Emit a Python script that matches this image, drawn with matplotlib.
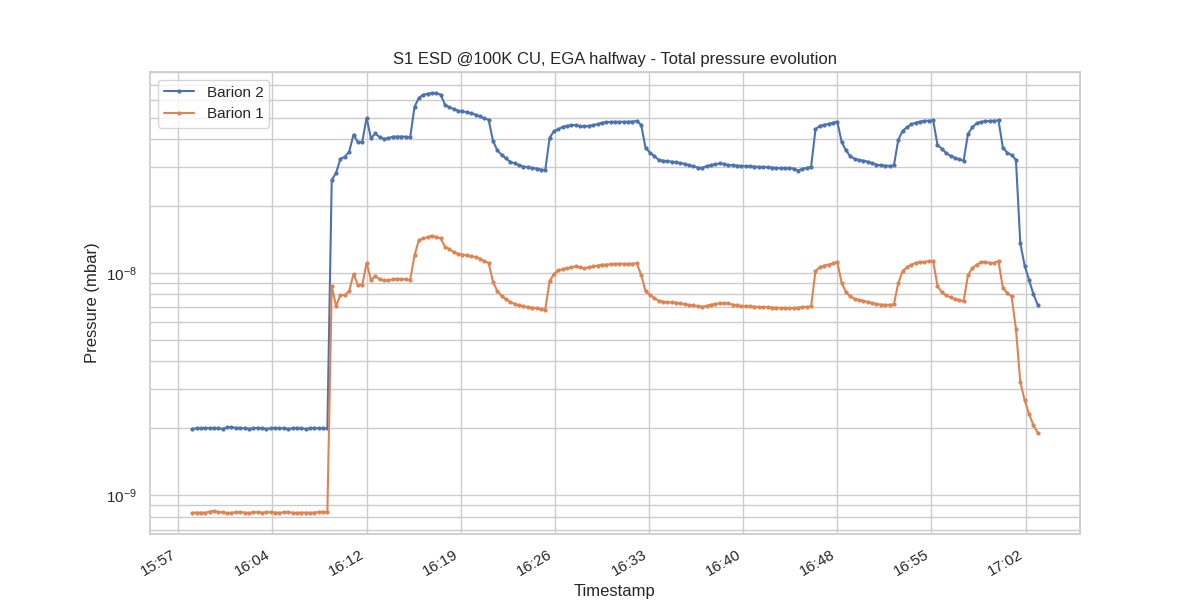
import numpy as np
import pandas as pd
import matplotlib
matplotlib.use("Agg")
import matplotlib.pyplot as plt
import matplotlib.dates as mdates
import matplotlib.ticker as mticker
import seaborn as sns

# readings every 20 s, pressure in units of 1e-9 mbar
start = "2023-01-01 15:58:40"
step = "20s"

barion2_flat = [1.99, 2.00, 2.00, 2.01, 2.00, 2.01, 2.00, 1.99,
                2.02, 2.02, 2.01, 2.01, 2.00, 1.99, 2.00, 2.01,
                2.00, 1.99, 2.00, 2.01, 2.00, 2.00, 1.99, 2.00,
                2.01, 2.00, 1.99, 2.00, 2.01, 2.00, 2.00, 2.00]
barion2_run = [26.2, 28.2, 32.6, 33.3, 35.1, 41.9, 38.7, 38.9, 49.9, 40.4,
               42.4, 40.8, 40.1, 40.4, 41.0, 41.1, 41.1, 41.0, 40.7, 55.9,
               61.4, 63.4, 64.0, 64.5, 64.3, 63.4, 57.1, 55.6, 54.6, 53.7,
               53.4, 52.8, 52.3, 51.5, 50.6, 49.6, 48.9, 39.3, 35.6, 34.0,
               32.8, 31.6, 31.1, 30.5, 30.1, 29.9, 29.7, 29.5, 29.2, 29.0,
               40.6, 43.4, 44.3, 45.5, 45.9, 46.2, 46.3, 45.8, 45.6, 45.9,
               46.3, 46.7, 47.4, 47.7, 47.8, 47.9, 47.8, 47.9, 47.9, 48.0,
               48.2, 46.4, 36.6, 34.8, 33.6, 32.3, 32.0, 31.8, 31.7, 31.5,
               31.2, 31.0, 30.5, 30.2, 29.8, 29.7, 30.2, 30.6, 30.8, 31.1,
               31.0, 30.6, 30.5, 30.4, 30.3, 30.2, 30.2, 30.1, 30.0, 30.0,
               29.9, 29.8, 29.7, 29.6, 29.6, 29.6, 29.5, 28.9, 29.4, 29.7,
               30.0, 44.3, 45.9, 46.4, 46.9, 47.4, 48.0, 38.9, 35.6, 33.5,
               32.6, 32.2, 32.0, 31.7, 31.2, 30.7, 30.5, 30.4, 30.3, 30.5,
               39.7, 43.6, 45.2, 46.7, 47.4, 48.0, 48.3, 48.4, 48.6, 37.7,
               36.2, 34.6, 33.6, 33.0, 32.4, 32.0, 42.3, 45.2, 47.2, 47.8,
               48.2, 48.3, 48.4, 48.6, 36.6, 34.8, 33.9, 32.3, 13.6, 10.8,
               9.30, 8.04, 7.18]

barion1_flat = [0.835, 0.835, 0.836, 0.834, 0.845, 0.850, 0.840, 0.838,
                0.832, 0.835, 0.838, 0.840, 0.836, 0.833, 0.837, 0.840,
                0.835, 0.838, 0.842, 0.836, 0.834, 0.838, 0.840, 0.835,
                0.833, 0.836, 0.835, 0.834, 0.836, 0.840, 0.843, 0.838]
barion1_run = [8.70, 7.10, 7.96, 7.96, 8.29, 9.90, 8.83, 8.83, 11.1, 9.30,
               9.69, 9.35, 9.25, 9.25, 9.37, 9.40, 9.40, 9.35, 9.30, 12.0,
               14.1, 14.3, 14.5, 14.7, 14.5, 14.3, 13.1, 12.8, 12.4, 12.2,
               12.1, 12.0, 11.9, 11.8, 11.6, 11.3, 11.1, 9.11, 8.29, 7.88,
               7.60, 7.40, 7.25, 7.14, 7.07, 7.01, 6.98, 6.94, 6.87, 6.84,
               9.20, 9.90, 10.26, 10.4, 10.5, 10.6, 10.7, 10.6, 10.5, 10.6,
               10.7, 10.8, 10.9, 10.9, 10.95, 11.0, 11.0, 11.0, 11.0, 11.0,
               11.05, 9.80, 8.29, 7.96, 7.71, 7.50, 7.44, 7.38, 7.37, 7.36,
               7.29, 7.23, 7.18, 7.14, 7.10, 7.05, 7.10, 7.20, 7.25, 7.29,
               7.30, 7.29, 7.21, 7.14, 7.10, 7.08, 7.07, 7.05, 7.03, 7.02,
               7.01, 6.99, 6.98, 6.96, 6.95, 6.94, 6.94, 6.98, 7.03, 7.03,
               7.07, 10.2, 10.6, 10.8, 10.9, 11.05, 11.2, 9.02, 8.21, 7.84,
               7.64, 7.57, 7.49, 7.41, 7.34, 7.25, 7.21, 7.18, 7.19, 7.23,
               9.00, 10.2, 10.6, 10.9, 11.1, 11.2, 11.2, 11.3, 11.3, 8.74,
               8.17, 7.92, 7.77, 7.64, 7.56, 7.46, 9.79, 10.5, 10.9, 11.2,
               11.2, 11.1, 11.1, 11.3, 8.56, 8.13, 7.84, 5.60, 3.23, 2.68,
               2.32, 2.07, 1.91]

barion2 = np.array(barion2_flat + barion2_run) * 1e-9
barion1 = np.array(barion1_flat + barion1_run) * 1e-9
t = pd.date_range(start, periods=len(barion2), freq=step)

sns.set_theme(style="whitegrid")
plt.rcParams["font.family"] = ["Liberation Sans", "DejaVu Sans"]

fig, ax = plt.subplots(figsize=(12, 6), dpi=100)
ax.plot(t, barion2, marker=".", markersize=4, label="Barion 2")
ax.plot(t, barion1, marker=".", markersize=4, label="Barion 1")
ax.set_yscale("log")
ax.grid(True, which="both", axis="y")
ax.grid(True, which="major", axis="x")

ax.xaxis.set_major_locator(mticker.MultipleLocator(0.005))
ax.xaxis.set_major_formatter(mdates.DateFormatter("%H:%M"))
plt.setp(ax.get_xticklabels(), rotation=30, ha="right")

ax.set_title("S1 ESD @100K CU, EGA halfway - Total pressure evolution")
ax.set_xlabel("Timestamp")
ax.set_ylabel("Pressure (mbar)")
ax.legend(loc="upper left")

fig.savefig("out.png")
